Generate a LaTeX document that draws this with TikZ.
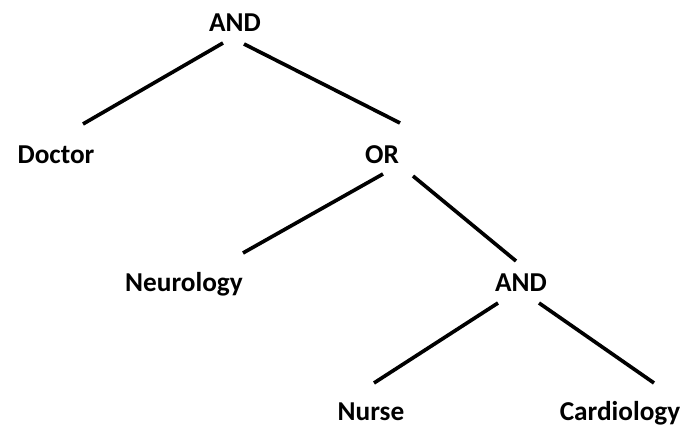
\documentclass[tikz,border=0pt]{standalone}
\usepackage{fontspec}
\setmainfont{Carlito}

\begin{document}
\begin{tikzpicture}[
    x=0.025cm, y=-0.025cm,
    term/.style={anchor=base, inner sep=0pt, font=\fontsize{19.4}{23}\selectfont\bfseries},
    branch/.style={line width=2.6pt}
]
\useasboundingbox (0,0) rectangle (692,427);

\node[term] (and1)   at (235, 32)  {AND};
\node[term] (doctor) at (56, 163)  {Doctor};
\node[term] (or1)    at (382, 163) {OR};
\node[term] (neuro)  at (184, 291) {Neurology};
\node[term] (and2)   at (521, 291) {AND};
\node[term] (nurse)  at (371, 420) {Nurse};
\node[term] (cardio) at (620, 420) {Cardiology};

\draw[branch] ([shift={(-12,11)}]and1.base) -- ([shift={(27,-39)}]doctor.base);
\draw[branch] ([shift={(9,12)}]and1.base)   -- ([shift={(18,-40)}]or1.base);
\draw[branch] ([shift={(1,11)}]or1.base)    -- ([shift={(59,-38)}]neuro.base);
\draw[branch] ([shift={(31,13)}]or1.base)   -- ([shift={(-5,-30)}]and2.base);
\draw[branch] ([shift={(-23,12)}]and2.base) -- ([shift={(3,-37)}]nurse.base);
\draw[branch] ([shift={(18,12)}]and2.base)  -- ([shift={(34,-37)}]cardio.base);

\end{tikzpicture}
\end{document}
